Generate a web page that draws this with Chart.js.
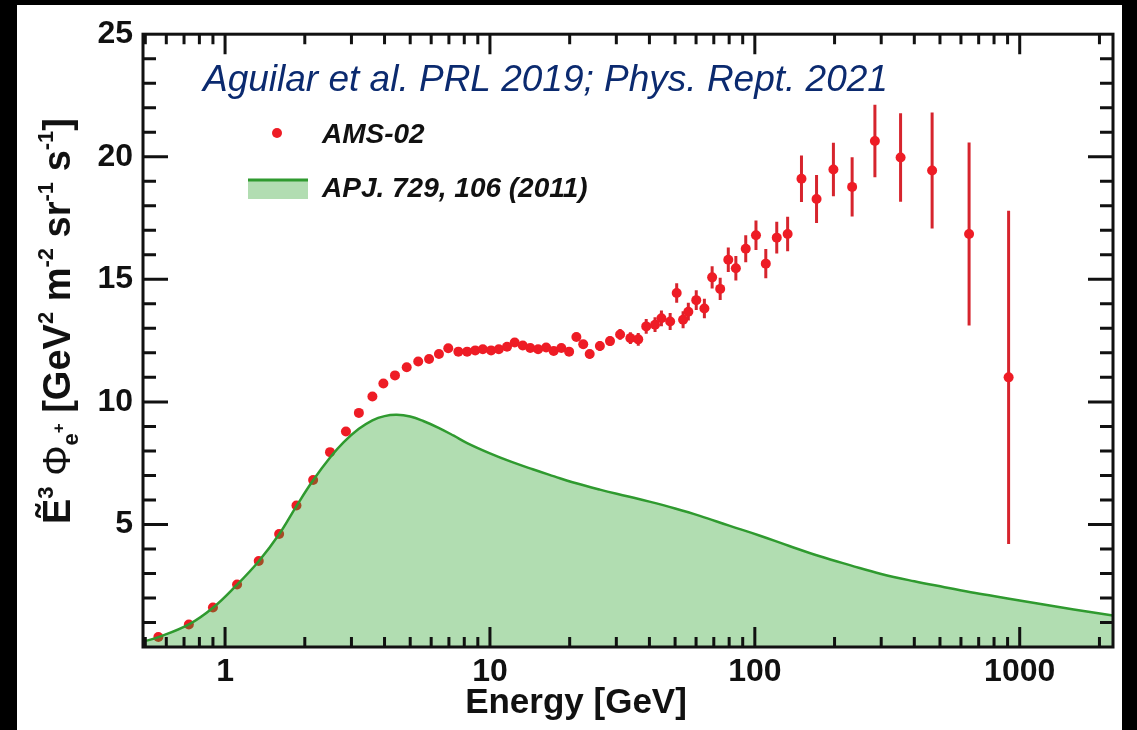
<!DOCTYPE html>
<html>
<head>
<meta charset="utf-8">
<title>AMS-02 positron flux</title>
<script src="https://cdn.jsdelivr.net/npm/chart.js@4.4.1/dist/chart.umd.min.js"></script>
<style>
  html, body { margin: 0; padding: 0; background: #000; }
  #wrap { position: absolute; left: 17px; top: 5px; width: 1105px; height: 725px; background: #fff; }
</style>
</head>
<body>
<div id="wrap"><canvas id="fluxChart"></canvas></div>
<script>
// AMS-02 positron flux x E^3
const amsEnergy = [0.56, 0.73, 0.9, 1.11, 1.34, 1.6, 1.86, 2.15, 2.49, 2.86, 3.2, 3.6, 3.96, 4.38, 4.85, 5.36, 5.89, 6.42, 6.96,
  7.6, 8.2, 8.8, 9.4, 10.1, 10.8, 11.6, 12.4, 13.3, 14.2, 15.2, 16.3, 17.4, 18.6, 19.9, 21.2, 22.5, 23.8, 26, 28.4, 31, 33.9, 36.3,
  38.9, 42, 44.4, 47.9, 50.7, 53.6, 56.1, 60.1, 64.5, 69, 74, 79.4, 84.8, 92.4, 101, 110, 121, 133,
  150, 171, 198, 233, 284, 355, 467, 644, 908];
const amsFlux = [0.41, 0.92, 1.61, 2.55, 3.51, 4.61, 5.77, 6.81, 7.95, 8.79, 9.55, 10.22, 10.75, 11.08, 11.41, 11.65, 11.75, 11.95, 12.19,
  12.05, 12.05, 12.1, 12.15, 12.1, 12.15, 12.25, 12.42, 12.3, 12.2, 12.15, 12.22, 12.08, 12.2, 12.05, 12.65, 12.35, 11.95, 12.28, 12.48, 12.75, 12.6, 12.55,
  13.08, 13.15, 13.41, 13.28, 14.44, 13.35, 13.68, 14.15, 13.81, 15.08, 14.61, 15.8, 15.45, 16.25, 16.8, 15.64, 16.7, 16.85,
  19.1, 18.28, 19.48, 18.77, 20.64, 19.97, 19.44, 16.85, 11.0];
const amsError = [0.05, 0.05, 0.05, 0.05, 0.05, 0.05, 0.05, 0.05, 0.05, 0.05, 0.05, 0.05, 0.05, 0.05, 0.05, 0.05, 0.05, 0.05, 0.05,
  0.1, 0.1, 0.1, 0.1, 0.1, 0.1, 0.12, 0.12, 0.12, 0.12, 0.14, 0.14, 0.14, 0.15, 0.15, 0.17, 0.17, 0.18, 0.2, 0.2, 0.22, 0.24, 0.26,
  0.3, 0.3, 0.32, 0.35, 0.4, 0.35, 0.36, 0.4, 0.4, 0.45, 0.45, 0.5, 0.5, 0.55, 0.6, 0.6, 0.65, 0.7,
  0.95, 0.98, 1.09, 1.21, 1.48, 1.81, 2.37, 3.73, 6.8];

// APJ 729, 106 (2011) model curve
const modelEnergy = [0.49, 0.56, 0.73, 0.9, 1.1, 1.34, 1.6, 1.86, 2.15, 2.5, 2.8, 3.2, 3.6, 4.0, 4.45, 5.0, 5.6, 6.4, 7.3, 8.2,
  10, 12, 14.5, 17.5, 20.5, 26, 33, 40, 50, 62, 80, 104, 135, 176, 230, 300, 400, 520, 680, 900, 1200, 1600, 2250];
const modelFlux = [0.22, 0.4, 0.92, 1.6, 2.5, 3.5, 4.6, 5.75, 6.8, 7.75, 8.35, 8.9, 9.25, 9.42, 9.47, 9.4, 9.22, 8.94, 8.62, 8.32,
  7.9, 7.56, 7.25, 6.96, 6.72, 6.42, 6.15, 5.93, 5.65, 5.35, 4.95, 4.55, 4.12, 3.7, 3.33, 2.98, 2.68, 2.44, 2.2, 1.98, 1.75, 1.53, 1.28];

const xTicks = [1, 10, 100, 1000];
const xTickLabels = ['1', '10', '100', '1000'];
const yTickLabels = ['', '5', '10', '15', '20', '25'];

const seriesNames = ['AMS-02', 'APJ. 729, 106 (2011)'];
const refText = 'Aguilar et al. PRL 2019; Phys. Rept. 2021';
const xTitle = 'Energy [GeV]';

const red = '#ee1c25';
const green = '#2f9a2f';
const greenFill = 'rgba(40, 160, 40, 0.36)';
const fontFam = '"Liberation Sans", Arial, Helvetica, sans-serif';

// error bars, under the markers
const errorBars = {
  id: 'errorBars',
  beforeDatasetsDraw(chart) {
    const {ctx, chartArea, scales: {x, y}} = chart;
    ctx.save();
    ctx.beginPath();
    ctx.rect(chartArea.left, chartArea.top, chartArea.width, chartArea.height);
    ctx.clip();
    ctx.strokeStyle = '#d6242d';
    ctx.lineWidth = 3;
    amsEnergy.forEach((e, i) => {
      const px = x.getPixelForValue(e);
      ctx.beginPath();
      ctx.moveTo(px, y.getPixelForValue(amsFlux[i] - amsError[i]));
      ctx.lineTo(px, y.getPixelForValue(amsFlux[i] + amsError[i]));
      ctx.stroke();
    });
    ctx.restore();
  }
};

// frame, inward ticks, titles, legend
const decorations = {
  id: 'decorations',
  afterDraw(chart) {
    const {ctx, chartArea: a, scales: {x, y}} = chart;
    ctx.save();
    ctx.strokeStyle = '#111';
    ctx.lineWidth = 3;
    ctx.lineCap = 'butt';

    // x ticks, top and bottom
    [0.1, 1, 10, 100, 1000].forEach(d => {
      for (let m = 1; m <= 9; m++) {
        const v = m * d;
        if (v < x.min || v > x.max) continue;
        const px = x.getPixelForValue(v);
        const len = m === 1 ? 20 : 10;
        ctx.beginPath();
        ctx.moveTo(px, a.bottom); ctx.lineTo(px, a.bottom - len);
        ctx.moveTo(px, a.top); ctx.lineTo(px, a.top + len);
        ctx.stroke();
      }
    });
    // y ticks, left and right
    for (let v = 1; v < 25; v++) {
      const py = y.getPixelForValue(v);
      const len = v % 5 === 0 ? 25 : 13;
      ctx.beginPath();
      ctx.moveTo(a.left, py); ctx.lineTo(a.left + len, py);
      ctx.moveTo(a.right, py); ctx.lineTo(a.right - len, py);
      ctx.stroke();
    }
    ctx.strokeRect(a.left, a.top, a.right - a.left, a.bottom - a.top);

    // reference line
    ctx.fillStyle = '#0b2a6f';
    ctx.font = 'italic 37px ' + fontFam;
    ctx.textBaseline = 'alphabetic';
    ctx.textAlign = 'left';
    ctx.fillText(refText, 186, 86);

    // legend
    ctx.fillStyle = red;
    ctx.beginPath();
    ctx.arc(260, 128, 5, 0, Math.PI * 2);
    ctx.fill();
    ctx.fillStyle = 'rgb(178, 221, 178)';
    ctx.fillRect(231, 174, 60, 20);
    ctx.strokeStyle = green;
    ctx.lineWidth = 3;
    ctx.beginPath();
    ctx.moveTo(231, 175); ctx.lineTo(291, 175);
    ctx.stroke();
    ctx.fillStyle = '#111';
    ctx.font = 'italic bold 28px ' + fontFam;
    ctx.fillText(seriesNames[0], 305, 138);
    ctx.fillText(seriesNames[1], 305, 192);

    // x title
    ctx.font = 'bold 35px ' + fontFam;
    ctx.textAlign = 'center';
    ctx.fillText(xTitle, 559, 708);

    // y title with sub/superscripts, rotated
    const big = 'bold 38px ' + fontFam;
    const sup = 'bold 22px ' + fontFam;
    const parts = [
      {t: 'Ẽ', f: big, dy: 0},
      {t: '3', f: sup, dy: -17},
      {t: ' Φ', f: '38px ' + fontFam, dy: 0},
      {t: 'e', f: sup, dy: 8},
      {t: '+', f: 'bold 17px ' + fontFam, dy: -6},
      {t: ' [GeV', f: big, dy: 0},
      {t: '2', f: sup, dy: -17},
      {t: ' m', f: big, dy: 0},
      {t: '-2', f: sup, dy: -17},
      {t: ' sr', f: big, dy: 0},
      {t: '-1', f: sup, dy: -17},
      {t: ' s', f: big, dy: 0},
      {t: '-1', f: sup, dy: -17},
      {t: ']', f: big, dy: 0}
    ];
    let total = 0;
    parts.forEach(p => { ctx.font = p.f; p.w = ctx.measureText(p.t).width; total += p.w; });
    ctx.translate(53, 316 + total / 2);
    ctx.rotate(-Math.PI / 2);
    ctx.textAlign = 'left';
    let cx = 0;
    parts.forEach(p => {
      ctx.font = p.f;
      ctx.fillText(p.t, cx, p.dy);
      cx += p.w;
    });
    ctx.restore();
  }
};

const ctx = document.getElementById('fluxChart').getContext('2d');
new Chart(ctx, {
  type: 'line',
  data: {
    datasets: [
      {
        label: seriesNames[1],
        data: modelEnergy.map((e, i) => ({x: e, y: modelFlux[i]})),
        borderColor: green,
        borderWidth: 2.5,
        backgroundColor: greenFill,
        fill: 'origin',
        pointRadius: 0,
        tension: 0.4,
        order: 0
      },
      {
        label: seriesNames[0],
        data: amsEnergy.map((e, i) => ({x: e, y: amsFlux[i]})),
        showLine: false,
        pointRadius: 5,
        pointBackgroundColor: red,
        pointBorderWidth: 0,
        order: 1
      }
    ]
  },
  options: {
    responsive: true,
    maintainAspectRatio: false,
    animation: false,
    events: [],
    layout: {
      padding: { top: 20, right: 9, left: 0, bottom: 0 }
    },
    scales: {
      x: {
        type: 'logarithmic',
        min: 0.49,
        max: 2250,
        grid: { display: false, drawTicks: false },
        border: { display: false },
        afterBuildTicks: s => { s.ticks = xTicks.map(v => ({value: v})); },
        afterFit: s => { s.height = 83; },
        ticks: {
          autoSkip: false,
          maxRotation: 0,
          padding: 6,
          color: '#111',
          font: { family: fontFam, size: 32, weight: 'bold' },
          callback: (v, i) => xTickLabels[i]
        }
      },
      y: {
        min: 0,
        max: 25,
        grid: { display: false, drawTicks: false },
        border: { display: false },
        afterFit: s => { s.width = 126; },
        ticks: {
          stepSize: 5,
          padding: 10,
          color: '#111',
          font: { family: fontFam, size: 32, weight: 'bold' },
          callback: (v, i) => yTickLabels[i]
        }
      }
    },
    plugins: {
      legend: { display: false },
      tooltip: { enabled: false }
    }
  },
  plugins: [errorBars, decorations]
});
</script>
</body>
</html>
